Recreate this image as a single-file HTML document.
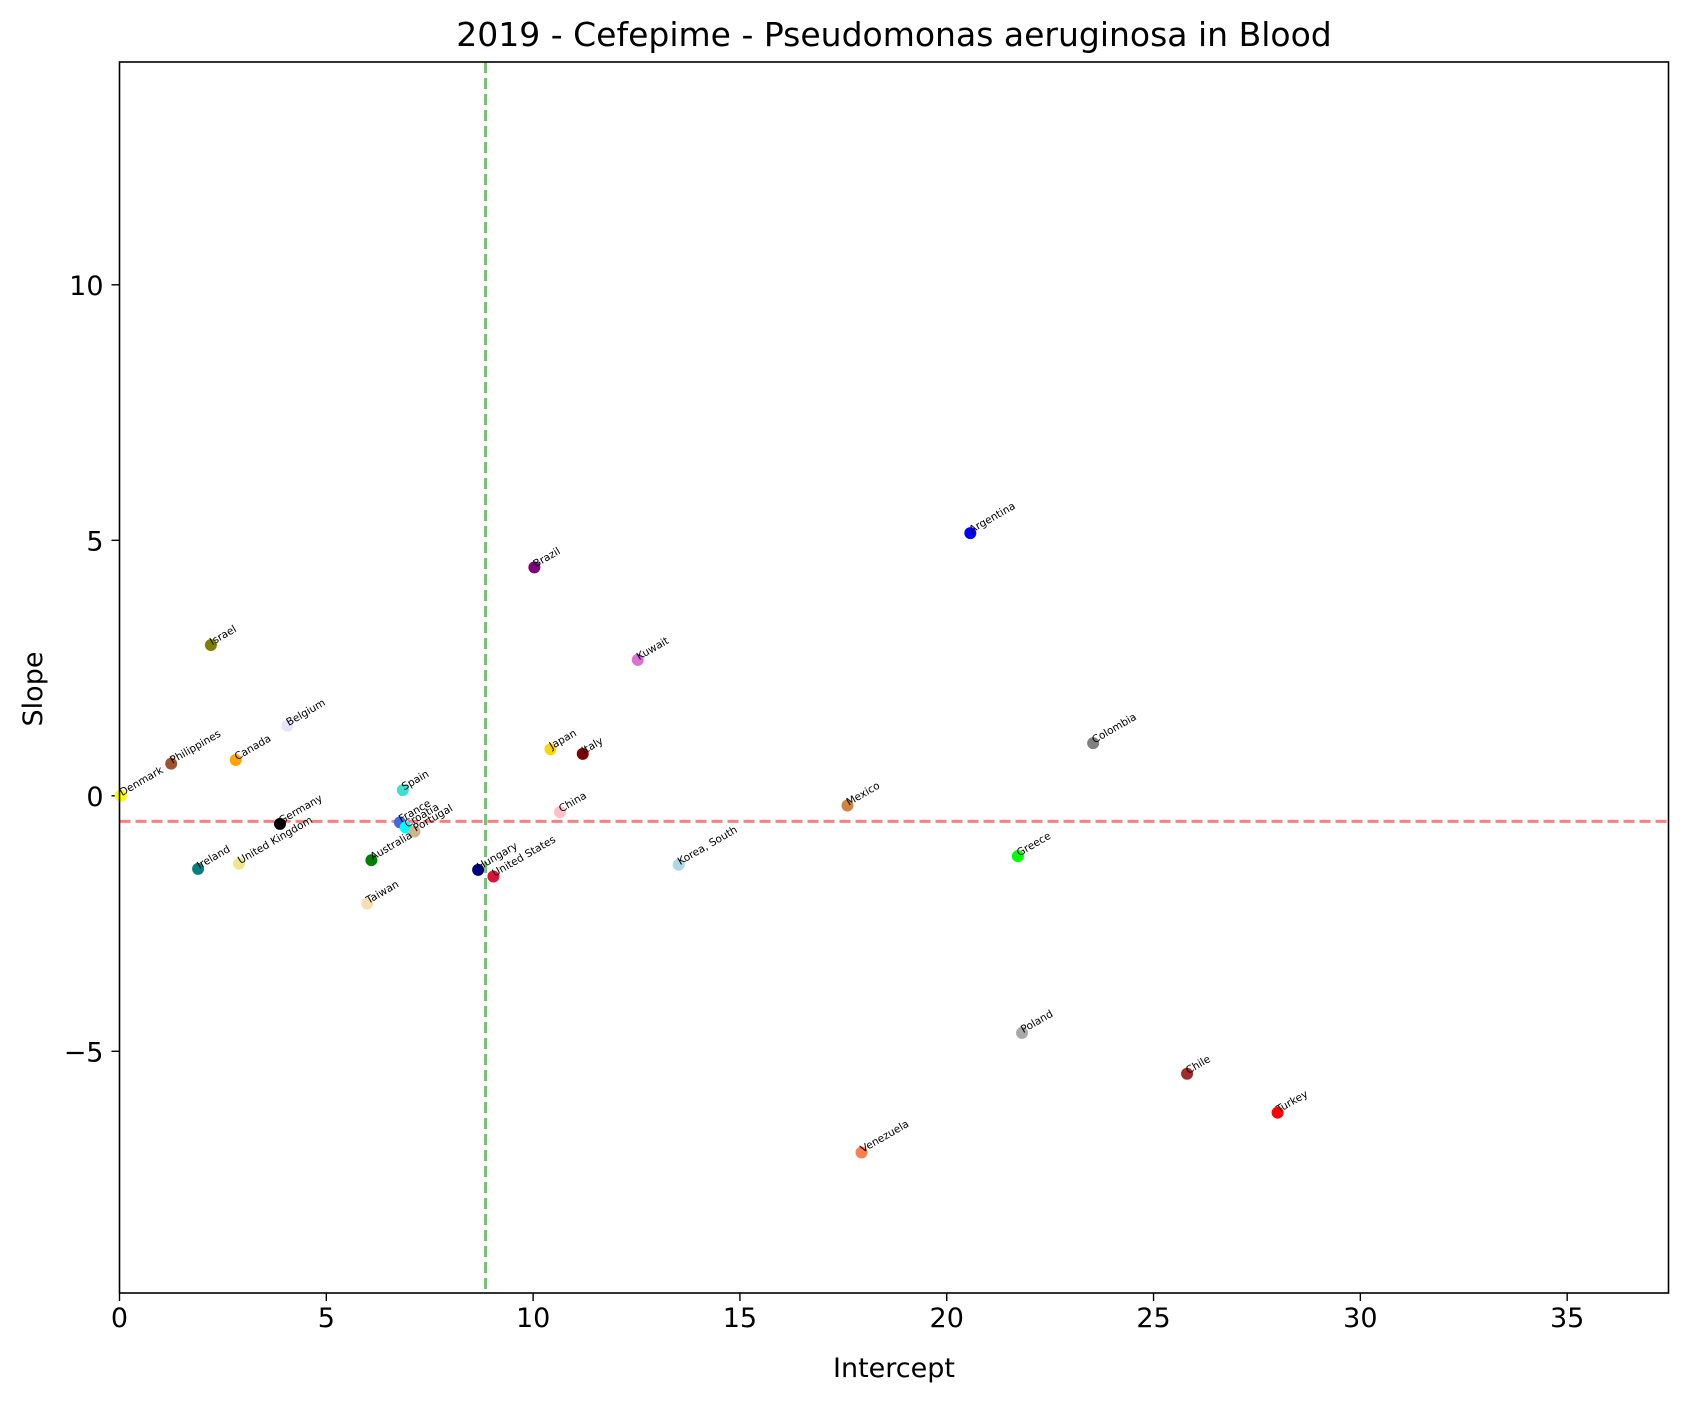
<!DOCTYPE html>
<html><head><meta charset="utf-8"><style>
body{margin:0;background:#fff;}
svg{display:block;font-family:"DejaVu Sans","Liberation Sans",sans-serif;}
</style></head><body>
<svg id="chart" width="1689" height="1401" xmlns="http://www.w3.org/2000/svg">
<rect width="1689" height="1401" fill="#fff"/>
<text x="894" y="46" text-anchor="middle" font-size="33">2019 - Cefepime - Pseudomonas aeruginosa in Blood</text>
<text x="894" y="1377" text-anchor="middle" font-size="27">Intercept</text>
<text x="42" y="689" text-anchor="middle" font-size="27" transform="rotate(-90 42 689)">Slope</text>
<g id="ticks"></g>
<g id="plot"></g>
<rect x="119.5" y="62" width="1549" height="1231" fill="none" stroke="#000" stroke-width="1.6"/>
</svg>
<script>
const countries=["Denmark","Philippines","Israel","Canada","Belgium","Germany","Ireland","United Kingdom","Spain","France","Croatia","Portugal","Australia","Taiwan","Hungary","United States","Brazil","Japan","Italy","China","Kuwait","Korea, South","Mexico","Venezuela","Argentina","Greece","Poland","Colombia","Chile","Turkey"];
const intercepts=[0.03,1.25,2.21,2.81,4.06,3.88,1.90,2.89,6.85,6.78,6.92,7.13,6.09,5.99,8.67,9.04,10.03,10.42,11.20,10.65,12.53,13.52,17.60,17.94,20.57,21.72,21.82,23.54,25.81,28.00];
const slopes=[0.0,0.63,2.95,0.70,1.37,-0.55,-1.43,-1.33,0.11,-0.52,-0.62,-0.70,-1.26,-2.11,-1.45,-1.58,4.47,0.91,0.82,-0.32,2.66,-1.35,-0.19,-6.98,5.14,-1.18,-4.64,1.03,-5.44,-6.20];
const colors=["yellow","sienna","olive","orange","lavender","black","teal","khaki","turquoise","royalblue","cyan","tan","green","wheat","navy","crimson","purple","gold","maroon","pink","orchid","lightblue","peru","coral","blue","lime","darkgray","gray","brown","red"];
const xTicks=[0,5,10,15,20,25,30,35];
const yTicks=[-5,0,5,10];
const meanIntercept=8.85;
const meanSlope=-0.5;
const X0=119.5,X1=1668.5,Y0=62,Y1=1293,XMIN=0,XMAX=37.45,YMIN=-9.73,YMAX=14.36;
const xs=v=>X0+(v-XMIN)/(XMAX-XMIN)*(X1-X0);
const ys=v=>Y1-(v-YMIN)/(YMAX-YMIN)*(Y1-Y0);
const NS="http://www.w3.org/2000/svg";
const tk=document.getElementById('ticks'),pl=document.getElementById('plot');
function mk(t,a,p){const e=document.createElementNS(NS,t);for(const k in a)e.setAttribute(k,a[k]);p.appendChild(e);return e;}
xTicks.forEach(v=>{const x=xs(v);
const l=mk('line',{x1:x,x2:x,y1:Y1,y2:Y1+8,stroke:'#000','stroke-width':1.4},tk);


const t=mk('text',{x:x,y:Y1+34,'text-anchor':'middle','font-size':27},tk);t.textContent=v;

});
yTicks.forEach(v=>{const y=ys(v);
const l=mk('line',{x1:X0-8,x2:X0,y1:y,y2:y,stroke:'#000','stroke-width':1.4},tk);


const t=mk('text',{x:X0-16,y:y+10,'text-anchor':'end','font-size':27},tk);t.textContent=v<0?'\u2212'+(-v):v;

});
const vl=mk('line',{x1:xs(meanIntercept),x2:xs(meanIntercept),y1:Y0,y2:Y1,stroke:'#2ca02c','stroke-opacity':0.65,'stroke-width':3,'stroke-dasharray':'11,5'},pl);


const hl=mk('line',{x1:X0,x2:X1,y1:ys(meanSlope),y2:ys(meanSlope),stroke:'#ff0000','stroke-opacity':0.5,'stroke-width':3,'stroke-dasharray':'11,5'},pl);


countries.forEach((c,i)=>{const x=xs(intercepts[i]),y=ys(slopes[i]);
const d=mk('circle',{cx:x,cy:y,r:6,fill:colors[i]},pl);


const t=mk('text',{x:x+1,y:y+1,'font-size':10.5,transform:`rotate(-30 ${x} ${y})`},pl);t.textContent=c;

});
</script>
</body></html>
